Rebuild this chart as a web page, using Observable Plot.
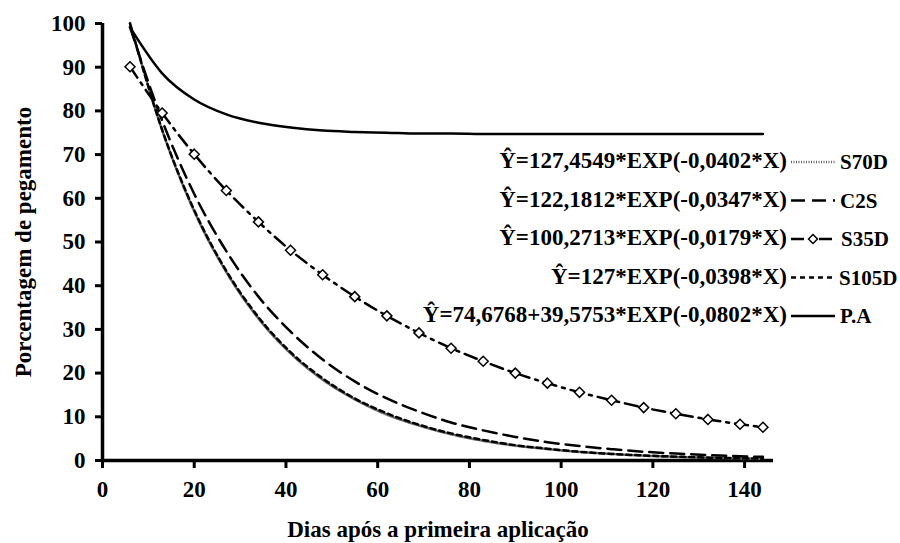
<!DOCTYPE html>
<html>
<head>
<meta charset="utf-8">
<script src="https://cdn.jsdelivr.net/npm/d3@7"></script>
<script src="https://cdn.jsdelivr.net/npm/@observablehq/plot@0.6"></script>
<style>
  html, body { margin: 0; padding: 0; background: #fff; }
  #wrap { position: relative; width: 900px; height: 543px; font-family: "Liberation Serif", "Times New Roman", serif; font-weight: bold; }
  #legend { position: absolute; left: 0; top: 0; }
</style>
</head>
<body>
<div id="wrap"></div>
<script>
// Days (x) at which values were read
const days = [6, 13, 20, 27, 34, 41, 48, 55, 62, 69, 76, 83, 90, 97, 104, 111, 118, 125, 132, 139, 144];
// Series values (percentage)
const s70d  = [100.1, 75.6, 57.0, 43.1, 32.5, 24.5, 18.5, 14.0, 10.5, 8.0, 6.0, 4.5, 3.4, 2.6, 1.95, 1.5, 1.1, 0.84, 0.63, 0.48, 0.39];
const c2s   = [99.2, 77.8, 61.0, 47.9, 37.5, 29.5, 23.1, 18.1, 14.2, 11.2, 8.7, 6.9, 5.4, 4.2, 3.3, 2.6, 2.0, 1.6, 1.25, 0.98, 0.83];
const s35d  = [90.1, 79.5, 70.1, 61.8, 54.6, 48.1, 42.5, 37.5, 33.1, 29.2, 25.7, 22.7, 20.0, 17.7, 15.6, 13.8, 12.1, 10.7, 9.4, 8.3, 7.6];
const s105d = [100.0, 75.7, 57.3, 43.4, 32.8, 24.8, 18.8, 14.2, 10.8, 8.2, 6.2, 4.7, 3.5, 2.7, 2.0, 1.5, 1.16, 0.88, 0.66, 0.5, 0.41];
const pa    = [99.1, 88.6, 82.6, 79.2, 77.3, 76.2, 75.5, 75.2, 75.0, 74.8, 74.8, 74.7, 74.7, 74.7, 74.7, 74.7, 74.7, 74.7, 74.7, 74.7, 74.7];

const seriesNames = ["S70D", "C2S", "S35D", "S105D", "P.A"];
const equations = [
  "Y\u0302=127,4549*EXP(-0,0402*X)",
  "Y\u0302=122,1812*EXP(-0,0347*X)",
  "Y\u0302=100,2713*EXP(-0,0179*X)",
  "Y\u0302=127*EXP(-0,0398*X)",
  "Y\u0302=74,6768+39,5753*EXP(-0,0802*X)"
];
const xTicks = [0, 20, 40, 60, 80, 100, 120, 140];
const yTicks = [0, 10, 20, 30, 40, 50, 60, 70, 80, 90, 100];
const xLabel = "Dias após a primeira aplicação";
const yLabel = "Porcentagem de pegamento";

// line styles per series
const styles = {
  "S70D":  {stroke: "#666", strokeWidth: 2.5, strokeDasharray: "1,1.5"},
  "C2S":   {stroke: "#000", strokeWidth: 2.5, strokeDasharray: "14,7"},
  "S35D":  {stroke: "#000", strokeWidth: 2.5, strokeDasharray: "13,6,3,6"},
  "S105D": {stroke: "#000", strokeWidth: 2.5, strokeDasharray: "5,4"},
  "P.A":   {stroke: "#000", strokeWidth: 2.5, strokeDasharray: null}
};
const valuesBy = {"S70D": s70d, "C2S": c2s, "S35D": s35d, "S105D": s105d, "P.A": pa};
const rows = (name) => days.map((d, i) => ({day: d, value: valuesBy[name][i]}));

const FONT = "'Liberation Serif', 'Times New Roman', serif";
const plot = Plot.plot({
  width: 900,
  height: 543,
  marginLeft: 102,
  marginTop: 23,
  marginBottom: 83,
  marginRight: 127,
  style: {fontFamily: FONT, fontWeight: "bold", fontSize: "23px", color: "#000", background: "#fff"},
  x: {domain: [0, 146.3]},
  y: {domain: [0, 100]},
  marks: [
    Plot.axisX({ticks: xTicks, tickSize: 8, tickPadding: 12, strokeWidth: 3, tickFormat: d => d, label: xLabel, labelAnchor: "center", labelArrow: "none", labelOffset: 76}),
    Plot.axisY({ticks: yTicks, tickSize: 7, tickPadding: 10, strokeWidth: 3, tickFormat: d => d, label: yLabel, labelAnchor: "center", labelArrow: "none", labelOffset: 88}),
    Plot.ruleY([0], {strokeWidth: 3.5}),
    Plot.ruleX([0], {strokeWidth: 3.5}),
    ...seriesNames.map(name => Plot.line(rows(name), {x: "day", y: "value", curve: "monotone-x", ...styles[name]})),
    Plot.dot(rows("S35D"), {x: "day", y: "value", symbol: "diamond2", r: 4.5, stroke: "#000", strokeWidth: 1.5, fill: "#fff"})
  ]
});
document.getElementById("wrap").appendChild(plot);

// Legend (equations + samples + names), right side
const legendRowsY = [160, 198.5, 237, 275.5, 314];
const eqRight = 787, sampleX0 = 791, sampleX1 = 835;
const nameX = [840, 840, 841, 839, 840];
const svg = d3.select("#wrap").append("svg")
  .attr("id", "legend").attr("width", 900).attr("height", 543)
  .style("font-family", FONT)
  .style("font-weight", "bold");
seriesNames.forEach((name, i) => {
  const y = legendRowsY[i];
  svg.append("text").attr("x", eqRight).attr("y", y).attr("dy", "0.35em").attr("text-anchor", "end")
    .style("font-size", "23px").text(equations[i]);
  const st = styles[name];
  svg.append("line").attr("x1", sampleX0).attr("x2", sampleX1).attr("y1", y + 2).attr("y2", y + 2)
    .attr("stroke", st.stroke).attr("stroke-width", st.strokeWidth).attr("stroke-dasharray", st.strokeDasharray);
  if (name === "S35D") {
    const cx = (sampleX0 + sampleX1) / 2, cy = y + 2, s = 4.5;
    svg.append("path").attr("d", `M${cx},${cy - s}L${cx + s},${cy}L${cx},${cy + s}L${cx - s},${cy}Z`)
      .attr("fill", "#fff").attr("stroke", "#000").attr("stroke-width", 1.5);
  }
  svg.append("text").attr("x", nameX[i]).attr("y", y + 2).attr("dy", "0.35em")
    .style("font-size", "21px").text(name);
});
</script>
</body>
</html>
